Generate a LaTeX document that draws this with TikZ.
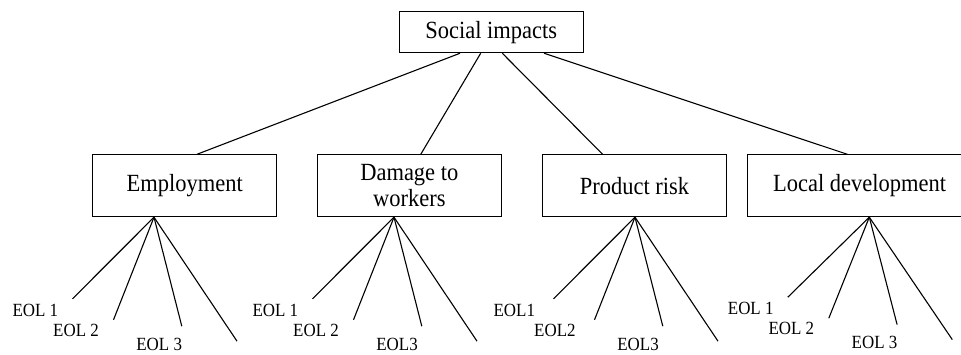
\documentclass[tikz,border=0pt]{standalone}
\usepackage{fontspec}
\setmainfont{Liberation Serif}[FakeStretch=0.91]
\usepackage{tikz}
\newcommand\boxfont{\fontsize{24.7}{25.7}\selectfont}
\newcommand\eolfont{\fontsize{18.6}{20}\selectfont}
\tikzset{
    box/.style={draw, line width=1.1pt, minimum width=184, minimum height=61.7, inner sep=0pt, align=center, font=\boxfont},
    eol/.style={anchor=base west, inner sep=0pt, text depth=0pt, font=\eolfont},
    link/.style={line width=1.1pt}
}
\begin{document}
\begin{tikzpicture}[x=1pt,y=1pt]
        \useasboundingbox (0,0) rectangle (961,354);
        \node[box, minimum height=41] (soc) at (491.3,321.8) {Social impacts};
        \node[box] (emp) at (184.7,168.2) {Employment};
        \node[box] (dam) at (409.3,168.2) {Damage to\\workers};
        \node[box] (prod) at (634.5,168.2) {Product risk};
        \node[box, minimum width=225] (loc) at (859.6,168.2) {Local development};
        \draw[link] ([xshift=-31.3]soc.south) -- ([xshift=12]emp.north);
        \draw[link] ([xshift=-10.6]soc.south) -- ([xshift=11.4]dam.north);
        \draw[link] ([xshift=11]soc.south) -- ([xshift=-31.8]prod.north);
        \draw[link] ([xshift=52.7]soc.south) -- ([xshift=-11.9]loc.north);
        \foreach \b/\dx/\dy/\la/\lb/\lc in {emp/-30.7/0/EOL 1/EOL 2/EOL 3,
                dam/-15.3/0/EOL 1/EOL 2/EOL3,
                prod/0.5/0/EOL1/EOL2/EOL3,
                loc/9.7/1.6/EOL 1/EOL 2/EOL 3} {
            \coordinate (\b-a) at ([xshift=\dx]\b.south);
            \coordinate (\b-e1) at ([shift={(-81.5,-81.6+\dy)}]\b-a);
            \coordinate (\b-e2) at ([shift={(-40.5,-102.6+\dy)}]\b-a);
            \coordinate (\b-e3) at ([shift={(27.8,-109+\dy)}]\b-a);
            \coordinate (\b-e4) at ([shift={(83,-124+\dy)}]\b-a);
            \foreach \i in {1,...,4} {
                \draw[link] (\b-a) -- (\b-e\i);
            }
            \node[eol] (\b-l1) at ([shift={(-141.6,-99+\dy)}]\b-a) {\la};
            \node[eol] (\b-l2) at ([shift={(-101,-119.3+\dy)}]\b-a) {\lb};
            \node[eol] (\b-l3) at ([shift={(-17.8,-133.3+\dy)}]\b-a) {\lc};
          }
    \end{tikzpicture}
\end{document}
